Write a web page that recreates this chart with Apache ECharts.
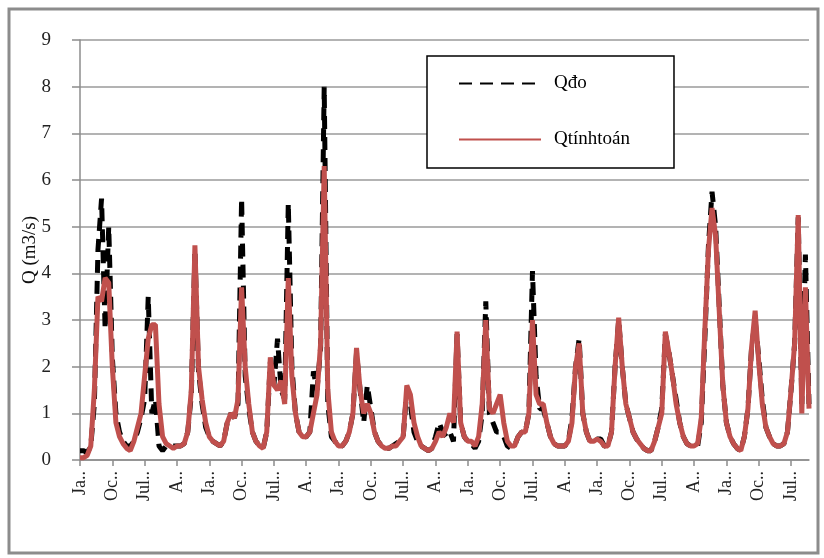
<!DOCTYPE html>
<html>
<head>
<meta charset="utf-8">
<script src="https://cdn.jsdelivr.net/npm/echarts@6/dist/echarts.min.js"></script>
<style>
  html, body { margin: 0; padding: 0; background: #fff; }
  #chart { width: 824px; height: 558px; }
</style>
</head>
<body>
<div id="chart"></div>
<script>
// tháng (17 năm, số liệu theo tháng)
var monthNames = ['Jan', 'Feb', 'Mar', 'Apr', 'May', 'Jun', 'Jul', 'Aug', 'Sep', 'Oct', 'Nov', 'Dec']
var shortLabels = { Jan: 'Ja..', Apr: 'A..', Jul: 'Jul..', Oct: 'Oc..' }
var yTicks = [0, 1, 2, 3, 4, 5, 6, 7, 8, 9]

// lưu lượng đo
var qDo = [
  0.2, 0.2, 0.15, 0.3, 1.2, 4.5, 5.6, 2.8, 5.0, 2.2, 1.0, 0.6,
  0.4, 0.3, 0.3, 0.4, 0.6, 0.9, 1.3, 3.5, 1.0, 1.3, 0.3, 0.2,
  0.3, 0.3, 0.3, 0.3, 0.3, 0.35, 0.6, 1.4, 4.5, 1.9, 1.2, 0.7,
  0.5, 0.4, 0.35, 0.3, 0.4, 0.8, 1.0, 0.9, 1.2, 5.6, 1.8, 1.1,
  0.6, 0.4, 0.3, 0.25, 0.6, 2.1, 1.6, 2.6, 1.5, 1.3, 5.5, 2.0,
  1.0, 0.6, 0.5, 0.5, 0.6, 1.9, 1.5, 2.4, 8.0, 1.2, 0.5, 0.4,
  0.3, 0.3, 0.4, 0.6, 1.0, 2.3, 1.5, 0.8, 1.6, 1.1, 0.6, 0.4,
  0.3, 0.25, 0.25, 0.3, 0.35, 0.4, 0.5, 1.5, 1.2, 0.6, 0.4, 0.3,
  0.25, 0.2, 0.25, 0.5, 0.8, 0.6, 0.5, 0.6, 0.4, 2.7, 0.8, 0.5,
  0.4, 0.35, 0.25, 0.4, 1.0, 3.4, 1.0, 0.8, 0.6, 0.6, 0.5, 0.3,
  0.25, 0.3, 0.5, 0.6, 0.6, 1.0, 4.05, 1.8, 1.1, 1.1, 0.8, 0.5,
  0.35, 0.3, 0.3, 0.3, 0.4, 0.9, 2.0, 2.6, 1.0, 0.6, 0.4, 0.4,
  0.45, 0.45, 0.3, 0.3, 0.6, 2.0, 3.0, 2.0, 1.2, 0.9, 0.6, 0.45,
  0.35, 0.25, 0.2, 0.2, 0.4, 0.7, 1.1, 2.7, 2.3, 1.8, 1.3, 0.8,
  0.5, 0.35, 0.3, 0.3, 0.3, 0.8, 2.6, 4.6, 5.75, 5.0, 3.3, 1.6,
  0.8, 0.5, 0.35, 0.25, 0.2, 0.5, 1.1, 2.4, 3.0, 2.2, 1.3, 0.7,
  0.5, 0.35, 0.3, 0.3, 0.35, 0.6, 1.5, 2.5, 5.2, 1.2, 4.4, 1.2
]

// lưu lượng tính toán
var qTinhToan = [
  0.05, 0.05, 0.1, 0.3, 1.5, 3.5, 3.4, 3.9, 3.8, 2.0, 0.8, 0.5,
  0.35, 0.25, 0.2, 0.4, 0.7, 1.0, 1.8, 2.6, 2.9, 2.9, 1.2, 0.5,
  0.35, 0.3, 0.25, 0.3, 0.3, 0.35, 0.6, 1.5, 4.6, 2.0, 1.3, 0.8,
  0.5, 0.4, 0.35, 0.3, 0.4, 0.8, 1.0, 0.9, 1.3, 3.7, 2.0, 1.2,
  0.6, 0.4, 0.3, 0.25, 0.6, 2.2, 1.6, 1.5, 1.7, 1.2, 3.9, 1.8,
  1.0, 0.6, 0.5, 0.5, 0.6, 1.0, 1.4, 2.5, 6.3, 1.5, 0.6, 0.4,
  0.3, 0.3, 0.4, 0.6, 1.0, 2.4, 1.5, 1.0, 1.2, 1.0, 0.6, 0.4,
  0.3, 0.25, 0.25, 0.3, 0.3, 0.4, 0.5, 1.6, 1.4, 0.8, 0.5, 0.3,
  0.25, 0.2, 0.25, 0.4, 0.6, 0.5, 0.7, 1.0, 0.8, 2.75, 0.8, 0.5,
  0.4, 0.4, 0.3, 0.5, 1.2, 3.0, 1.1, 1.0, 1.2, 1.4, 0.8, 0.4,
  0.3, 0.3, 0.5, 0.6, 0.6, 1.0, 3.0, 1.4, 1.2, 1.2, 0.8, 0.5,
  0.35, 0.3, 0.3, 0.3, 0.4, 0.8, 2.0, 2.5, 1.0, 0.6, 0.4, 0.4,
  0.45, 0.4, 0.3, 0.3, 0.6, 2.0, 3.05, 2.0, 1.2, 0.9, 0.6, 0.45,
  0.35, 0.25, 0.2, 0.2, 0.4, 0.7, 1.0, 2.75, 2.3, 1.8, 1.2, 0.8,
  0.5, 0.35, 0.3, 0.3, 0.35, 0.9, 2.8, 4.5, 5.4, 4.8, 3.2, 1.6,
  0.8, 0.5, 0.35, 0.25, 0.2, 0.5, 1.1, 2.4, 3.2, 2.1, 1.2, 0.7,
  0.5, 0.35, 0.3, 0.3, 0.35, 0.6, 1.5, 2.5, 5.25, 1.0, 3.7, 1.1
]

var categories = []
for (var k = 0; k < qDo.length; k++) {
  categories.push(monthNames[k % 12])
}

var serif = 'Liberation Serif'

var chart = echarts.init(document.getElementById('chart'))
chart.setOption({
  animation: false,
  backgroundColor: '#fff',
  graphic: [{
    type: 'rect',
    shape: { x: 9, y: 9, width: 809, height: 544 },
    style: { fill: 'none', stroke: '#8c8c8c', lineWidth: 3 },
    z: 0
  }],
  grid: {
    left: 80,
    right: 15,
    top: 40,
    bottom: 98
  },
  legend: {
    orient: 'vertical',
    left: 427,
    top: 56,
    padding: [18, 44, 19, 31],
    itemGap: 37,
    itemWidth: 82,
    itemHeight: 14,
    backgroundColor: '#fff',
    borderColor: '#000',
    borderWidth: 1.5,
    borderRadius: 0,
    itemStyle: { opacity: 0 },
    textStyle: { fontFamily: serif, fontSize: 19, color: '#000', padding: [0, 0, 0, 8] },
    data: ['Qđo', 'Qtínhtoán']
  },
  xAxis: {
    type: 'category',
    boundaryGap: false,
    data: categories,
    axisLine: { lineStyle: { color: '#8c8c8c', width: 1.5 } },
    axisTick: { interval: 8, length: 6, lineStyle: { color: '#8c8c8c', width: 1.5 } },
    axisLabel: {
      interval: 8,
      rotate: 90,
      margin: 11,
      fontFamily: serif,
      fontSize: 18,
      color: '#222',
      formatter: function (v) { return shortLabels[v] || v }
    },
    splitLine: { show: false }
  },
  yAxis: {
    type: 'value',
    min: yTicks[0],
    max: yTicks[yTicks.length - 1],
    interval: 1,
    name: 'Q (m3/s)',
    nameLocation: 'middle',
    nameGap: 40,
    nameMoveOverlap: false,
    nameTextStyle: { fontFamily: serif, fontSize: 19, color: '#111' },
    axisLine: { show: true, lineStyle: { color: '#8c8c8c', width: 1.5 } },
    axisTick: { show: true, length: 8, lineStyle: { color: '#8c8c8c', width: 1.5 } },
    axisLabel: { margin: 29, fontFamily: serif, fontSize: 19, color: '#222' },
    splitLine: { lineStyle: { color: '#9a9a9a', width: 1.5 } }
  },
  series: [{
    name: 'Qđo',
    type: 'line',
    symbol: 'none',
    data: qDo,
    lineStyle: { color: '#000', width: 5, type: [13, 8] },
    itemStyle: { color: '#000' },
    z: 2
  }, {
    name: 'Qtínhtoán',
    type: 'line',
    symbol: 'none',
    data: qTinhToan,
    lineStyle: { color: '#c0504d', width: 5 },
    itemStyle: { color: '#c0504d' },
    z: 3
  }]
})
</script>
</body>
</html>
